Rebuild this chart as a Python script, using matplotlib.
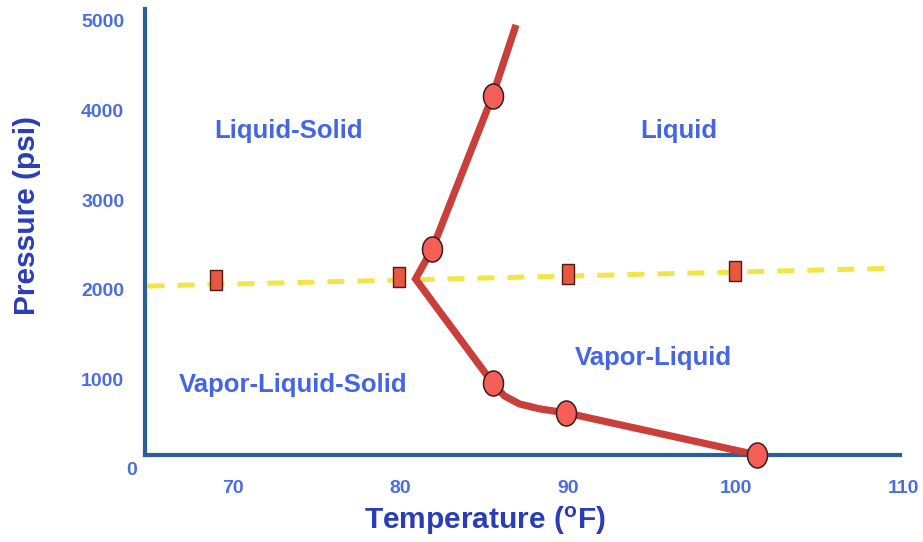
import numpy as np
import matplotlib
matplotlib.use("Agg")
import matplotlib.pyplot as plt
from matplotlib.path import Path
from matplotlib.transforms import ScaledTranslation

plt.rcParams['font.family'] = 'Liberation Sans'
plt.rcParams['mathtext.fontset'] = 'custom'
plt.rcParams['mathtext.rm'] = 'Liberation Sans:bold'
plt.rcParams['mathtext.it'] = 'Liberation Sans:bold'
plt.rcParams['mathtext.bf'] = 'Liberation Sans:bold'

# phase boundary (temperature F, pressure psi)
curve_t = [86.9, 85.5, 81.9, 80.9, 85.5, 86.2, 87.1, 88.3, 89.9, 101.3]
curve_p = [4800, 4010, 2300, 1965, 805, 660, 570, 515, 470, 0]
# measured points on the boundary
pts_t = [85.5, 81.9, 85.5, 89.9, 101.3]
pts_p = [4010, 2300, 805, 470, 0]
# isobar experiment points
iso_t = [69.0, 79.9, 90.0, 100.0]
iso_p = [1955, 1985, 2020, 2055]
line_t = [64.9, 109.6]
line_p = [1885, 2085]

xticks = [70, 80, 90, 100, 110]
yticks = [0, 1000, 2000, 3000, 4000, 5000]

regions = [("Liquid-Solid", 73.3, 3611),
           ("Liquid", 96.6, 3611),
           ("Vapor-Liquid", 95.1, 1085),
           ("Vapor-Liquid-Solid", 73.6, 780)]

tick_col = '#4b6de3'
region_col = '#4466e4'
label_col = '#2a3db8'

fig = plt.figure(figsize=(9.23, 5.42), dpi=100)
ax = fig.add_axes([145/923, 87/542, 758/923, 448/542])

ax.plot(line_t, line_p, color='#f4e44a', lw=3.6, dashes=(3.4, 2.6), zorder=2)
ax.plot(curve_t, curve_p, color='#c9403b', lw=5.2, solid_joinstyle='miter',
        solid_capstyle='butt', zorder=3)

th = np.linspace(0, 2*np.pi, 60)
ellipse = Path(np.column_stack([0.8*np.cos(th), np.sin(th)]), closed=True)
ax.plot(pts_t, pts_p, ls='none', marker=ellipse, ms=18, mfc='#f65f58',
        mec='#3b1c1c', mew=1.1, zorder=4, clip_on=False)

rect = Path([(-0.55, -1), (0.55, -1), (0.55, 1), (-0.55, 1), (-0.55, -1)], closed=True)
ax.plot(iso_t, iso_p, ls='none', marker=rect, ms=15, mfc='#e8573f',
        mec='#4a1e14', mew=1.0, zorder=4)

for txt, t, p in regions:
    ax.text(t, p, txt, color=region_col, fontsize=18.5, fontweight='bold',
            ha='center', va='center')

ax.set_xlim(64.75, 110)
ax.set_ylim(0, 5000)
ax.set_xticks(xticks)
ax.set_yticks(yticks)
ax.tick_params(length=0, labelsize=14, labelcolor=tick_col)
ax.tick_params(axis='x', pad=18)
ax.tick_params(axis='y', pad=15)
for lab in ax.get_xticklabels() + ax.get_yticklabels():
    lab.set_fontweight('bold')
for lab in ax.get_yticklabels():
    dx = 9/72 if lab.get_text() == '0' else 0
    lab.set_transform(lab.get_transform() + ScaledTranslation(dx, -10/72, fig.dpi_scale_trans))

for s in ['top', 'right']:
    ax.spines[s].set_visible(False)
for s in ['left', 'bottom']:
    ax.spines[s].set_color('#2a5f98')
    ax.spines[s].set_linewidth(3)
ax.spines['bottom'].set_bounds(64.75, 109.8)
ax.spines['left'].set_bounds(0, 4980)

fig.text(485/923, 1 - 521/542, r'Temperature ($^{o}$F)', color=label_col,
         fontsize=21.5, fontweight='bold', ha='center', va='center')
fig.text(27/923, 1 - 216/542, 'Pressure (psi)', color=label_col,
         fontsize=21.5, fontweight='bold', ha='center', va='center', rotation=90)

fig.savefig('out.png', dpi=100)
